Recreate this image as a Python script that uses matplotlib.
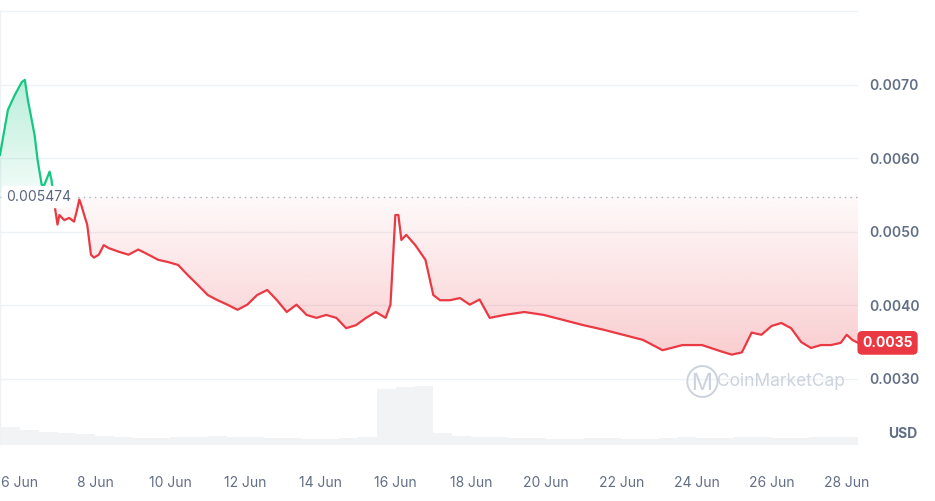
import numpy as np
import matplotlib.pyplot as plt
from matplotlib.patches import Rectangle, Polygon

# price series (day of June, USD)
days = [5.47, 5.68, 5.86, 6.05, 6.13, 6.21, 6.39, 6.47, 6.58, 6.65, 6.79, 6.84, 6.92, 7.0,
        7.05, 7.18, 7.31, 7.44, 7.52, 7.58, 7.63, 7.71, 7.79, 7.89, 7.97, 8.1, 8.23, 8.36,
        8.63, 8.89, 9.15, 9.42, 9.68, 9.94, 10.21, 10.47, 10.73, 11.0, 11.26, 11.52, 11.79,
        12.05, 12.31, 12.58, 12.84, 13.1, 13.36, 13.63, 13.89, 14.15, 14.42, 14.68, 14.94,
        15.21, 15.47, 15.73, 15.86, 15.99, 16.07, 16.15, 16.28, 16.52, 16.79, 17.0, 17.18,
        17.44, 17.71, 17.97, 18.23, 18.5, 18.89, 19.42, 19.94, 20.47, 21.0, 21.52, 22.05,
        22.58, 23.1, 23.63, 24.15, 24.68, 24.94, 25.21, 25.47, 25.73, 26.0, 26.26, 26.52,
        26.79, 27.05, 27.31, 27.58, 27.84, 28.0, 28.15, 28.3]
prices = [0.00605, 0.00666, 0.00686, 0.00704, 0.00707, 0.00680, 0.00632, 0.00598, 0.00564,
          0.00564, 0.00582, 0.00571, 0.00537, 0.00510, 0.00523, 0.00516, 0.00519, 0.00514,
          0.00530, 0.00544, 0.00537, 0.00523, 0.00510, 0.00469, 0.00465, 0.00469, 0.00482,
          0.00478, 0.00473, 0.00469, 0.00476, 0.00469, 0.00462, 0.00459, 0.00455, 0.00441,
          0.00428, 0.00414, 0.00407, 0.00401, 0.00394, 0.00401, 0.00414, 0.00421, 0.00407,
          0.00391, 0.00401, 0.00387, 0.00383, 0.00387, 0.00383, 0.00369, 0.00373, 0.00383,
          0.00391, 0.00383, 0.00401, 0.00523, 0.00523, 0.00489, 0.00496, 0.00482, 0.00462,
          0.00414, 0.00407, 0.00407, 0.00410, 0.00401, 0.00408, 0.00383, 0.00387, 0.00391,
          0.00387, 0.00380, 0.00373, 0.00367, 0.00360, 0.00353, 0.00339, 0.00346, 0.00346,
          0.00337, 0.00333, 0.00336, 0.00363, 0.00360, 0.00372, 0.00376, 0.00369, 0.00350,
          0.00342, 0.00346, 0.00346, 0.00349, 0.00360, 0.00353, 0.00349]
baseline = 0.005474
last_price = "0.0035"

# volume (relative), half-day buckets starting 5.5 Jun
vol_days = np.arange(5.5, 28.5, 0.5)
volumes = [0.30, 0.26, 0.22, 0.20, 0.18, 0.15, 0.13, 0.12, 0.12, 0.13, 0.13, 0.15, 0.14,
           0.13, 0.12, 0.12, 0.11, 0.11, 0.12, 0.14, 0.95, 0.98, 1.0, 0.20, 0.16, 0.14,
           0.13, 0.12, 0.12, 0.11, 0.11, 0.12, 0.12, 0.11, 0.11, 0.12, 0.13, 0.12, 0.12,
           0.13, 0.13, 0.12, 0.12, 0.13, 0.14, 0.13]

xticks = list(range(6, 29, 2))
xlabels = [f"{d} Jun" for d in xticks]
yticks = [0.003, 0.004, 0.005, 0.006, 0.007]

GREEN = "#16c784"
RED = "#ea3943"
GREY = "#616e85"

plt.rcParams['font.family'] = ['Inter', 'DejaVu Sans']
fig = plt.figure(figsize=(9.35, 5.01), dpi=100)
W, H = 935, 501
ax = fig.add_axes([0, 1 - 445 / H, 858 / W, 435 / H])
vax = fig.add_axes([0, 1 - 445 / H, 858 / W, 62 / H])
vax.set_zorder(0)
ax.set_zorder(1)
ax.patch.set_alpha(0)

x0, x1 = 5.47, 28.3
ymin, ymax = 0.0021, 0.00802
ax.set_xlim(x0, x1)
ax.set_ylim(ymin, ymax)
vax.set_xlim(x0, x1)
vax.set_ylim(0, 1.05)

# volume
vax.bar(vol_days, volumes, width=0.5, align='edge', color="#f2f3f5", edgecolor='none')
vax.axis('off')

# grid
for t in yticks + [0.008]:
    ax.axhline(t, color="#eff2f5", lw=1, zorder=0)
ax.axvline(x0, color="#eff2f5", lw=1, zorder=0)

x = np.array(days)
y = np.array(prices)


def gradient_fill(color, above):
    rgb = plt.matplotlib.colors.to_rgb(color)
    img = np.zeros((100, 1, 4))
    img[..., :3] = rgb
    if above:
        img[:, 0, 3] = np.linspace(0.05, 0.45, 100)
        ext = (x0, x1, baseline, ymax)
    else:
        img[:, 0, 3] = np.linspace(0.25, 0.03, 100)
        ext = (x0, x1, 0.0033, baseline)
    im = ax.imshow(img, aspect='auto', extent=ext, origin='lower', zorder=1)
    poly = Polygon(np.column_stack([np.r_[x[0], x, x[-1]],
                                    np.r_[baseline, y, baseline]]),
                   closed=True, transform=ax.transData)
    im.set_clip_path(poly)


gradient_fill(GREEN, True)
gradient_fill(RED, False)
ax.set_xlim(x0, x1)
ax.set_ylim(ymin, ymax)

lg, = ax.plot(x, y, color=GREEN, lw=1.6, zorder=3)
lg.set_clip_path(Rectangle((x0, baseline), x1 - x0, ymax - baseline, transform=ax.transData))
lr, = ax.plot(x, y, color=RED, lw=1.6, zorder=3)
lr.set_clip_path(Rectangle((x0, ymin), x1 - x0, baseline - ymin, transform=ax.transData))

ax.axhline(baseline, color="#a6b0c3", lw=1, ls=(0, (1, 3)), zorder=2)
ax.text(5.62, baseline, f"{baseline}", ha='left', va='center', fontsize=10, color="#58667e",
        zorder=5, bbox=dict(boxstyle='round,pad=0.3', fc='white', ec='none'))

ax.text(24.55, 0.00296, "CoinMarketCap", ha='left', va='center', fontsize=12.5,
        color="#cdd3dd", zorder=2)
ax.text(24.15, 0.00296, "Ⓜ", ha='center', va='center', fontsize=17, color="#cdd3dd", zorder=2)

ax.set_xticks(xticks)
ax.set_xticklabels(xlabels, fontsize=10, color=GREY)
ax.tick_params(axis='x', length=0, pad=22)
ax.yaxis.tick_right()
ax.set_yticks(yticks)
ax.set_yticklabels([f"{t:.4f}" for t in yticks], fontsize=10, color=GREY, fontweight='semibold')
ax.tick_params(axis='y', length=0, pad=8)
for s in ax.spines.values():
    s.set_visible(False)

ax.text(1.035, 0.025, "USD", transform=ax.transAxes, ha='left',
        va='center', fontsize=10, color=GREY, fontweight='bold')
ax.text(1.005, y[-1], last_price, transform=ax.get_yaxis_transform(), ha='left', va='center',
        fontsize=10, color='white', fontweight='bold',
        bbox=dict(boxstyle='round,pad=0.35', fc=RED, ec='none'))

fig.savefig("out.png", dpi=100)
